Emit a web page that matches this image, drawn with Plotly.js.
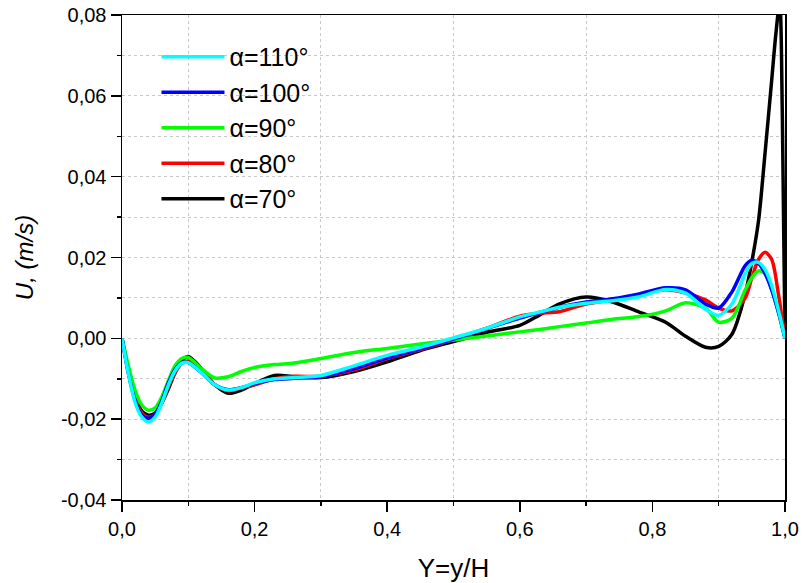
<!DOCTYPE html>
<html>
<head>
<meta charset="utf-8">
<script src="https://cdn.plot.ly/plotly-3.0.1.min.js"></script>
<style>html,body{margin:0;padding:0;background:#fff;}#chart{width:803px;height:583px;}</style>
</head>
<body>
<div id="chart"></div>
<script>
// Shared abscissa Y=y/H
const xCommon = [0, 0.01, 0.02, 0.03, 0.04, 0.05, 0.06, 0.07, 0.08, 0.09, 0.10, 0.12, 0.14, 0.16, 0.18, 0.20, 0.23, 0.26, 0.30, 0.35, 0.40, 0.45, 0.50, 0.55, 0.60, 0.63, 0.66, 0.70, 0.74, 0.78, 0.82, 0.85, 0.88, 0.90, 0.92, 0.94, 0.95, 0.96, 0.97, 0.98, 0.99, 1.0];
// alpha = 70 deg uses a finer tail near the wall
const x70 = [0, 0.01, 0.02, 0.03, 0.04, 0.05, 0.06, 0.07, 0.08, 0.09, 0.10, 0.12, 0.14, 0.16, 0.18, 0.20, 0.23, 0.26, 0.30, 0.35, 0.40, 0.45, 0.50, 0.55, 0.60, 0.63, 0.66, 0.70, 0.74, 0.78, 0.82, 0.85, 0.88, 0.90, 0.92, 0.94, 0.95, 0.96, 0.97, 0.98, 0.986, 0.992, 0.996, 1.0];

const u110 = [0, -0.009, -0.016, -0.0195, -0.0207, -0.0195, -0.016, -0.0115, -0.008, -0.0062, -0.006, -0.0085, -0.0115, -0.0128, -0.0122, -0.011, -0.0100, -0.0097, -0.0092, -0.0068, -0.0042, -0.0022, 0.0001, 0.0025, 0.0053, 0.0065, 0.0077, 0.0087, 0.0093, 0.0103, 0.0121, 0.0112, 0.0072, 0.0057, 0.0085, 0.0160, 0.0185, 0.0188, 0.0170, 0.0130, 0.0070, 0.0];
const u100 = [0, -0.009, -0.0155, -0.019, -0.0198, -0.0187, -0.0155, -0.011, -0.0077, -0.006, -0.006, -0.0085, -0.0115, -0.0127, -0.0122, -0.0112, -0.0102, -0.0099, -0.0095, -0.0075, -0.0048, -0.0026, -0.0002, 0.0024, 0.0050, 0.0064, 0.0077, 0.0090, 0.0098, 0.0110, 0.0125, 0.0120, 0.0085, 0.0075, 0.0115, 0.0180, 0.0193, 0.0185, 0.0160, 0.0120, 0.0065, 0.0];
const u90 = [0, -0.007, -0.013, -0.0165, -0.0178, -0.0172, -0.0145, -0.0105, -0.0068, -0.005, -0.0047, -0.0075, -0.0098, -0.0095, -0.0082, -0.0072, -0.0065, -0.0061, -0.005, -0.0035, -0.0025, -0.0014, -0.0004, 0.0006, 0.0016, 0.0022, 0.0029, 0.0038, 0.0047, 0.0054, 0.0068, 0.0088, 0.0075, 0.0040, 0.0050, 0.0120, 0.0150, 0.0167, 0.0160, 0.0120, 0.0065, 0.0];
const u80 = [0, -0.0085, -0.015, -0.0185, -0.0195, -0.0188, -0.016, -0.012, -0.0085, -0.0062, -0.0056, -0.008, -0.0115, -0.013, -0.0123, -0.0115, -0.0100, -0.0094, -0.0094, -0.0078, -0.0050, -0.0028, -0.0003, 0.0025, 0.0055, 0.0062, 0.0066, 0.0085, 0.0095, 0.0108, 0.0120, 0.0112, 0.0095, 0.0075, 0.0068, 0.0100, 0.0150, 0.0195, 0.0213, 0.0195, 0.0110, 0.0];
const u70 = [0, -0.008, -0.0145, -0.018, -0.019, -0.0185, -0.016, -0.0125, -0.0085, -0.0055, -0.0045, -0.0075, -0.0115, -0.0136, -0.0128, -0.0112, -0.0092, -0.0095, -0.0097, -0.0082, -0.0058, -0.0030, -0.0008, 0.0015, 0.0032, 0.0058, 0.0085, 0.0102, 0.0090, 0.0065, 0.0040, 0.0005, -0.0022, -0.0020, 0.0010, 0.0110, 0.0190, 0.0290, 0.0460, 0.0640, 0.0750, 0.0830, 0.0550, 0.0];

const seriesNames = ['α=70°', 'α=80°', 'α=90°', 'α=100°', 'α=110°'];
const seriesColors = ['#000000', '#ff0000', '#00ff00', '#0000ff', '#00ffff'];

const yTickVals = [-0.04, -0.02, 0, 0.02, 0.04, 0.06, 0.08];
const yTickText = ['-0,04', '-0,02', '0,00', '0,02', '0,04', '0,06', '0,08'];

const xs = [x70, xCommon, xCommon, xCommon, xCommon];
const ys = [u70, u80, u90, u100, u110];

const traces = ys.map((y, i) => ({
  x: xs[i], y: y, type: 'scatter', mode: 'lines', name: seriesNames[i],
  line: {color: seriesColors[i], width: 3.5, shape: 'spline', smoothing: 0.8}
}));

const font = 'Arial, "Liberation Sans", sans-serif';
const layout = {
  width: 803, height: 583,
  margin: {l: 122, r: 18, t: 15, b: 83},
  paper_bgcolor: '#fff', plot_bgcolor: '#fff',
  separators: ', ',
  font: {family: font, color: '#000', size: 20},
  showlegend: true,
  legend: {
    x: 0.052, y: 0.961, xanchor: 'left', yanchor: 'top',
    traceorder: 'reversed', bgcolor: 'rgba(0,0,0,0)',
    font: {family: font, size: 25, color: '#000'},
    itemwidth: 63
  },
  xaxis: {
    range: [0, 1], dtick: 0.2, tick0: 0, tickformat: '.1f',
    showline: true, linecolor: '#000', linewidth: 1.5, mirror: true,
    ticks: 'outside', ticklen: 10, tickwidth: 1.5, tickcolor: '#000',
    showgrid: false, zeroline: false,
    tickfont: {family: font, size: 20, color: '#000'},
    minor: {dtick: 0.1, tick0: 0, ticks: 'outside', ticklen: 4, tickwidth: 1.5, tickcolor: '#000',
            showgrid: true, gridcolor: '#c8c8c8', griddash: 'dot', gridwidth: 1},
    title: {text: 'Y=y/H', font: {family: font, size: 26, color: '#000'}, standoff: 22}
  },
  yaxis: {
    range: [-0.04, 0.08], tickmode: 'array', tickvals: yTickVals, ticktext: yTickText,
    showline: true, linecolor: '#000', linewidth: 1.5, mirror: true,
    ticks: 'outside', ticklen: 10, tickwidth: 1.5, tickcolor: '#000',
    showgrid: false, zeroline: false,
    tickfont: {family: font, size: 20, color: '#000'},
    minor: {tickmode: 'linear', dtick: 0.01, tick0: 0, ticks: 'outside', ticklen: 4, tickwidth: 1.5, tickcolor: '#000',
            showgrid: true, gridcolor: '#c8c8c8', griddash: 'dot', gridwidth: 1},
    title: {text: 'U, (m/s)', font: {family: font, size: 24, color: '#000', style: 'italic'}, standoff: 20}
  }
};

Plotly.newPlot('chart', traces, layout, {displayModeBar: false, staticPlot: true});
</script>
</body>
</html>
